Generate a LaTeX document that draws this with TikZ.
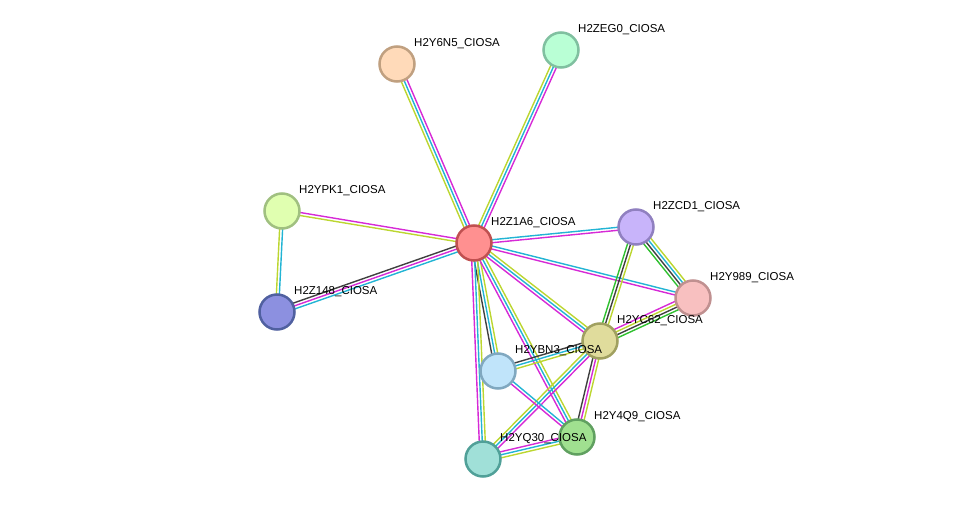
\documentclass[tikz,border=0pt]{standalone}
\usepackage{fontspec}
\setmainfont{Liberation Sans}
\usetikzlibrary{calc}
\definecolor{cExp}{HTML}{D62AD6}
\definecolor{cDb}{HTML}{22B4D4}
\definecolor{cTxt}{HTML}{BCD630}
\definecolor{cCo}{HTML}{404040}
\definecolor{cNb}{HTML}{30C030}
\tikzset{
  prot/.style={circle, minimum size=35pt, inner sep=0pt, line width=2.5pt},
  plabel/.style={anchor=south west, inner sep=1pt, font=\fontsize{11.5}{13}\selectfont},
}
% parallel coloured lines between two proteins
\newcommand\linkedge[3]{%
  \foreach \c [count=\i] in {#3} {\global\let\nedges\i}%
  \foreach \c [count=\i] in {#3} {%
    \pgfmathsetmacro\off{(\i-(\nedges+1)/2)*3}%
    \draw[\c, line width=1.4pt] ($(#1)!\off pt!90:(#2)$) -- ($(#2)!\off pt!-90:(#1)$);
  }%
}
\begin{document}
\begin{tikzpicture}[x=1pt, y=-1pt]
  \useasboundingbox (0,0) rectangle (975,505);
  %% positions
  \coordinate (z1a6) at (474,243);
  \coordinate (y6n5) at (397,64);
  \coordinate (zeg0) at (561,50);
  \coordinate (ypk1) at (282,211);
  \coordinate (z148) at (277,312);
  \coordinate (zcd1) at (636,227);
  \coordinate (y989) at (693,298);
  \coordinate (yc62) at (600,341);
  \coordinate (ybn3) at (498,371);
  \coordinate (y4q9) at (577,437);
  \coordinate (yq30) at (483,459);
  %% edges
  \linkedge{z1a6}{y6n5}{cExp,cDb,cTxt}
  \linkedge{z1a6}{zeg0}{cExp,cDb,cTxt}
  \linkedge{z1a6}{ypk1}{cExp,cTxt}
  \linkedge{z1a6}{z148}{cCo,cExp,cDb}
  \linkedge{ypk1}{z148}{cTxt,cDb}
  \linkedge{z1a6}{zcd1}{cExp,cDb}
  \linkedge{z1a6}{y989}{cExp,cDb}
  \linkedge{z1a6}{yc62}{cExp,cDb,cTxt}
  \linkedge{z1a6}{ybn3}{cCo,cDb,cTxt}
  \linkedge{z1a6}{y4q9}{cExp,cDb,cTxt}
  \linkedge{z1a6}{yq30}{cExp,cDb,cTxt}
  \linkedge{zcd1}{y989}{cNb,cCo,cDb,cTxt}
  \linkedge{zcd1}{yc62}{cNb,cCo,cTxt}
  \linkedge{y989}{yc62}{cExp,cTxt,cCo,cNb}
  \linkedge{yc62}{ybn3}{cCo,cDb,cTxt}
  \linkedge{yc62}{y4q9}{cCo,cExp,cTxt}
  \linkedge{yc62}{yq30}{cTxt,cDb,cExp}
  \linkedge{ybn3}{y4q9}{cExp,cDb}
  \linkedge{yq30}{y4q9}{cTxt,cDb,cExp}
  %% proteins
  \node[prot, fill={rgb,255:red,255;green,144;blue,144}, draw={rgb,255:red,192;green,80;blue,80}] (n1) at (z1a6) {};
  \node[prot, fill={rgb,255:red,255;green,218;blue,185}, draw={rgb,255:red,192;green,160;blue,128}] (n2) at (y6n5) {};
  \node[prot, fill={rgb,255:red,185;green,255;blue,213}, draw={rgb,255:red,128;green,192;blue,160}] (n3) at (zeg0) {};
  \node[prot, fill={rgb,255:red,224;green,255;blue,176}, draw={rgb,255:red,160;green,192;blue,128}] (n4) at (ypk1) {};
  \node[prot, fill={rgb,255:red,140;green,144;blue,224}, draw={rgb,255:red,80;green,96;blue,160}] (n5) at (z148) {};
  \node[prot, fill={rgb,255:red,200;green,180;blue,250}, draw={rgb,255:red,144;green,128;blue,192}] (n6) at (zcd1) {};
  \node[prot, fill={rgb,255:red,248;green,192;blue,192}, draw={rgb,255:red,192;green,144;blue,144}] (n7) at (y989) {};
  \node[prot, fill={rgb,255:red,224;green,220;blue,156}, draw={rgb,255:red,160;green,160;blue,96}] (n8) at (yc62) {};
  \node[prot, fill={rgb,255:red,192;green,228;blue,250}, draw={rgb,255:red,128;green,168;blue,192}] (n9) at (ybn3) {};
  \node[prot, fill={rgb,255:red,160;green,224;blue,144}, draw={rgb,255:red,96;green,160;blue,96}] (n10) at (y4q9) {};
  \node[prot, fill={rgb,255:red,160;green,224;blue,216}, draw={rgb,255:red,80;green,160;blue,152}] (n11) at (yq30) {};
  %% labels
  \node[plabel] at ($(z1a6)+(16,-14)$) {H2Z1A6\_CIOSA};
  \node[plabel] at ($(y6n5)+(16,-14)$) {H2Y6N5\_CIOSA};
  \node[plabel] at ($(zeg0)+(16,-14)$) {H2ZEG0\_CIOSA};
  \node[plabel] at ($(ypk1)+(16,-14)$) {H2YPK1\_CIOSA};
  \node[plabel] at ($(z148)+(16,-14)$) {H2Z148\_CIOSA};
  \node[plabel] at ($(zcd1)+(16,-14)$) {H2ZCD1\_CIOSA};
  \node[plabel] at ($(y989)+(16,-14)$) {H2Y989\_CIOSA};
  \node[plabel] at ($(yc62)+(16,-14)$) {H2YC62\_CIOSA};
  \node[plabel] at ($(ybn3)+(16,-14)$) {H2YBN3\_CIOSA};
  \node[plabel] at ($(y4q9)+(16,-14)$) {H2Y4Q9\_CIOSA};
  \node[plabel] at ($(yq30)+(16,-14)$) {H2YQ30\_CIOSA};
\end{tikzpicture}
\end{document}
